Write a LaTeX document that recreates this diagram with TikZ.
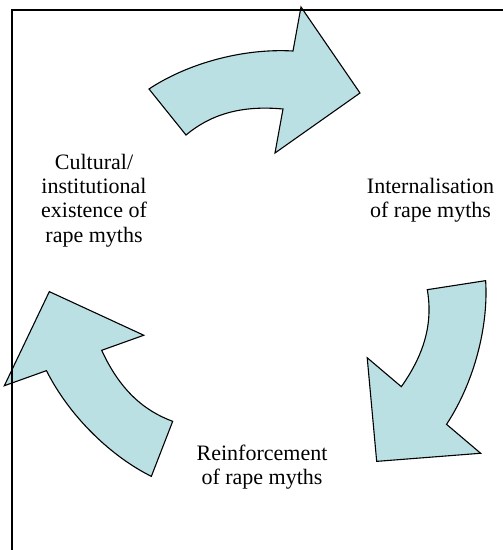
\documentclass[tikz,border=0pt]{standalone}
\usepackage{fontspec}
\setmainfont{Liberation Serif}
\usepackage{tikz}
\definecolor{arrowfill}{RGB}{187,224,227}
\tikzset{
    cyclearrow/.style={draw=black, fill=arrowfill, line width=1.1pt, line join=miter},
    stage/.style={align=center, inner sep=0pt, font=\fontsize{22}{24.3}\selectfont},
    frame/.style={draw=black, line width=2pt},
}

\begin{document}
\begin{tikzpicture}[x=1pt, y=1pt]

    \useasboundingbox (0,0) rectangle (503,550);

    % Curved arrows round the cycle
    \foreach \ang in {0,-120,-240}
        \draw[cyclearrow, shift={(262,268)}, rotate=\ang]
            (31,231) .. controls (-22,234) and (-77,217) .. (-113,193)
            -- (-76,147) .. controls (-52,167) and (-22,177) .. (21,173)
            -- (13,129) -- (98,189) -- (39,275) -- cycle;

    % Stages
    \node[stage] at (94, 349.5) (cultural) {Cultural/\\institutional\\existence of\\rape myths};
    \node[stage] at (430.5, 350) (intern) {Internalisation\\of rape myths};
    \node[stage] at (262, 83) (reinf) {Reinforcement\\of rape myths};

    % Frame
    \draw[frame] (12,0) -- (12,539.5) -- (503,539.5);

\end{tikzpicture}
\end{document}
